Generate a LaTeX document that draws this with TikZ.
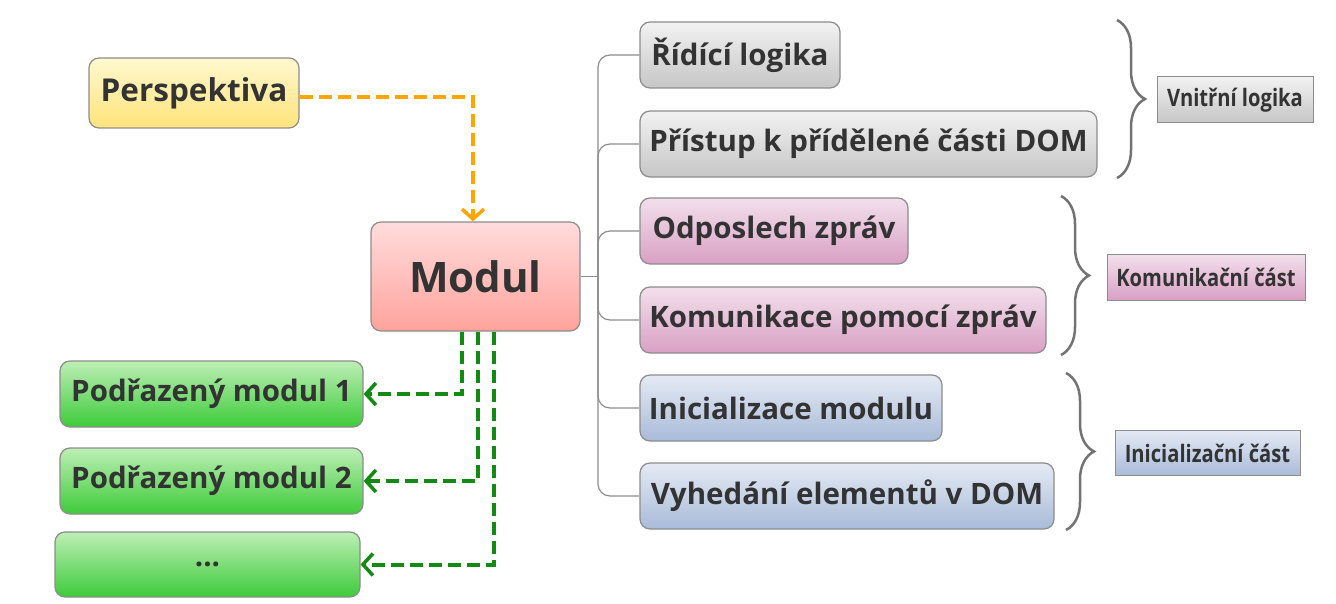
\documentclass[tikz,border=0pt]{standalone}
\usepackage{fontspec}
\setmainfont{Open Sans}
\newfontfamily\tagfont[FakeStretch=0.84]{Open Sans}
\usetikzlibrary{arrows.meta,decorations.pathreplacing}
\definecolor{txt}{HTML}{333333}
\definecolor{edge}{HTML}{8C8C8C}
\definecolor{orng}{HTML}{FFA500}
\definecolor{grn}{HTML}{138A13}
\definecolor{yelT}{HTML}{FFF8CF}\definecolor{yelB}{HTML}{FFE37A}
\definecolor{pnkT}{HTML}{FFDCDC}\definecolor{pnkB}{HTML}{FFA39C}
\definecolor{grnT}{HTML}{BDEFB5}\definecolor{grnB}{HTML}{3DCB3A}
\definecolor{gryT}{HTML}{F2F2F2}\definecolor{gryB}{HTML}{C6C6C6}
\definecolor{mauT}{HTML}{F2E0EC}\definecolor{mauB}{HTML}{D9A0C4}
\definecolor{bluT}{HTML}{E4EAF4}\definecolor{bluB}{HTML}{A9BBD8}
\tikzset{
  x=1pt, y=-1pt,
  box/.style={draw=edge, line width=1.2pt, rounded corners=10pt, text=txt,
    font=\fontsize{29.5}{34}\selectfont\bfseries, inner sep=0pt, anchor=center},
  yellowbox/.style={box, top color=yelT, bottom color=yelB},
  pinkbox/.style={box, top color=pnkT, bottom color=pnkB},
  greenbox/.style={box, top color=grnT, bottom color=grnB},
  graybox/.style={box, top color=gryT, bottom color=gryB},
  mauvebox/.style={box, top color=mauT, bottom color=mauB},
  bluebox/.style={box, top color=bluT, bottom color=bluB},
  tag/.style={draw=edge, line width=1pt, text=txt, inner sep=0pt,
    font=\tagfont\fontsize{24}{28}\selectfont\bfseries, anchor=center},
  tree/.style={draw=black!45, line width=1.2pt, rounded corners=12pt},
  orangelink/.style={draw=orng, line width=4pt, dash pattern=on 13pt off 6pt,
    -{Straight Barb[length=10pt,width=22pt,line width=3.5pt]}},
  greenlink/.style={draw=grn, line width=4pt, dash pattern=on 13pt off 6pt,
    -{Straight Barb[length=10pt,width=22pt,line width=3.5pt]}},
  curly/.style={draw=black!55, line width=2.5pt,
    decorate, decoration={brace, amplitude=28pt}},
}
\begin{document}
\begin{tikzpicture}
\useasboundingbox (0,0) rectangle (1336,604);

% left side
\node[yellowbox, minimum width=210pt, minimum height=70pt,
      font=\fontsize{31.5}{36}\selectfont\bfseries] (persp) at (194,93) {Perspektiva};
\node[pinkbox, minimum width=209pt, minimum height=109pt,
      font=\fontsize{42}{48}\selectfont\bfseries] (modul) at (475.5,276.5) {Modul};
\node[greenbox, minimum width=303pt, minimum height=66pt] (sub1) at (211.5,394) {Podřazený modul 1};
\node[greenbox, minimum width=303pt, minimum height=66pt] (sub2) at (211.5,481) {Podřazený modul 2};
\node[greenbox, minimum width=305pt, minimum height=65pt] (sub3) at (207.5,564.5) {...};

% right side
\node[graybox, minimum width=200pt, minimum height=66pt] (ridici) at (740,55) {Řídící logika};
\node[graybox, minimum width=457pt, minimum height=66pt] (pristup) at (868.5,144) {Přístup k přídělené části DOM};
\node[mauvebox, minimum width=268pt, minimum height=66pt] (odposlech) at (774,231) {Odposlech zpráv};
\node[mauvebox, minimum width=406pt, minimum height=66pt] (komunikace) at (843,320) {Komunikace pomocí zpráv};
\node[bluebox, minimum width=302pt, minimum height=66pt] (inicializace) at (791,408) {Inicializace modulu};
\node[bluebox, minimum width=414pt, minimum height=66pt] (vyhedani) at (847,496) {Vyhedání elementů v DOM};

% group labels
\node[tag, top color=gryT, bottom color=gryB, minimum width=156pt, minimum height=46pt] (vnitrni) at (1235,100) {Vnitřní logika};
\node[tag, top color=mauT, bottom color=mauB, minimum width=198pt, minimum height=46pt] (komcast) at (1206,277) {Komunikační část};
\node[tag, top color=bluT, bottom color=bluB, minimum width=185pt, minimum height=45pt] (inicast) at (1207.5,453) {Inicializační část};

% braces
\coordinate (b1t) at (1117,20);  \coordinate (b1b) at (1117,178);
\coordinate (b2t) at (1061,196); \coordinate (b2b) at (1061,355);
\coordinate (b3t) at (1066,373); \coordinate (b3b) at (1066,530);
\draw[curly] (b1t) -- (b1b);
\draw[curly] (b2t) -- (b2b);
\draw[curly] (b3t) -- (b3b);

% tree connectors
\coordinate (trunk) at (598,276.5);
\draw[tree] (modul.east) -- (trunk);
\foreach \n in {ridici,pristup,odposlech,komunikace,inicializace,vyhedani}
  \draw[tree] (trunk) |- (\n.west);

% links
\draw[orangelink] (persp.east |- 0,97) -| (modul.north -| 473,0);
\draw[greenlink] (modul.south -| 462,0) |- (sub1.east);
\draw[greenlink] (modul.south -| 478,0) |- (sub2.east);
\draw[greenlink] (modul.south -| 494,0) |- (sub3.east);
\end{tikzpicture}
\end{document}
